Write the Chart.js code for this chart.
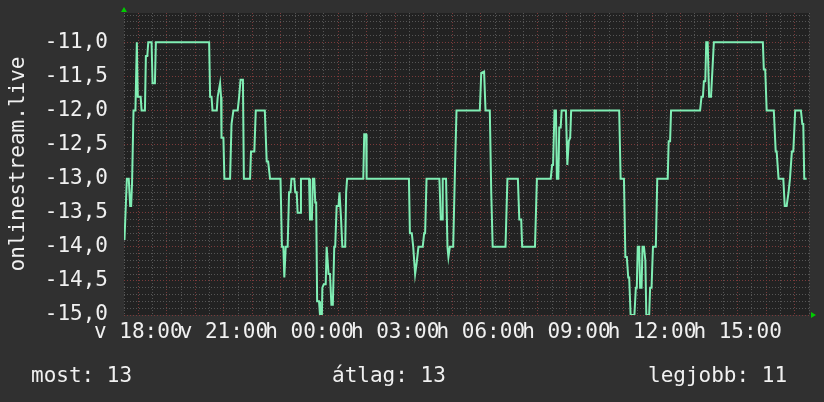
<!DOCTYPE html>
<html><head><meta charset="utf-8">
<script src="https://cdn.jsdelivr.net/npm/chart.js@4/dist/chart.umd.min.js"></script>
<style>
html,body{margin:0;padding:0;background:#303030;}
#wrap{position:relative;width:824px;height:402px;overflow:hidden;}
#c{position:absolute;left:0;top:0;}
.leg{position:absolute;top:365px;font-family:"DejaVu Sans Mono",monospace;font-size:21px;line-height:21px;color:#f0f0f0;white-space:pre;}
</style></head><body>
<div id="wrap"><canvas id="c" width="824" height="402"></canvas>
<div class="leg" id="leg0" style="left:31px"></div>
<div class="leg" id="leg1" style="left:332px"></div>
<div class="leg" id="leg2" style="left:648px"></div>
</div>
<script>
// minutes since the start of the window (17:30 on "v")
const minutes = [1,6,10,13,15,17,20,24,27,29,35,37,44,46,49,51,58,60,65,67,179,181,184,186,195,197,202,204,205,209,211,223,226,230,239,242,245,250,252,265,267,274,277,296,300,303,307,329,332,335,337,340,344,347,350,352,358,360,363,365,370,372,389,391,395,397,400,402,404,406,410,412,416,417,420,424,426,430,433,436,439,442,444,447,451,453,456,459,465,467,469,503,505,509,510,599,601,605,608,612,615,619,628,631,633,636,663,666,669,670,677,680,682,685,692,696,699,748,751,757,760,769,772,775,802,806,828,831,835,837,864,868,897,900,902,905,908,910,913,915,918,920,929,932,935,938,940,1041,1044,1051,1054,1057,1060,1062,1065,1073,1076,1078,1080,1083,1085,1088,1090,1093,1096,1098,1104,1106,1109,1112,1118,1121,1143,1145,1148,1150,1211,1214,1217,1219,1222,1224,1227,1230,1234,1237,1240,1343,1345,1348,1351,1366,1370,1372,1376,1386,1389,1393,1397,1400,1404,1407,1411,1423,1426,1428,1430,1435];
const values = [-13.9,-13.0,-13.0,-13.4,-13.4,-13.05,-12.0,-12.0,-11.0,-11.8,-11.8,-12.0,-12.0,-11.2,-11.2,-11.0,-11.0,-11.6,-11.6,-11.0,-11.0,-11.8,-11.8,-12.0,-12.0,-11.8,-11.6,-11.8,-12.4,-12.4,-13.0,-13.0,-12.2,-12.0,-12.0,-11.8,-11.55,-11.55,-13.0,-13.0,-12.6,-12.6,-12.0,-12.0,-12.75,-12.75,-13.0,-13.0,-14.0,-14.0,-14.45,-14.0,-14.0,-13.2,-13.2,-13.0,-13.0,-13.2,-13.2,-13.5,-13.5,-13.0,-13.0,-13.6,-13.6,-13.0,-13.0,-13.35,-13.35,-14.8,-14.8,-15.0,-15.0,-14.6,-14.55,-14.55,-14.0,-14.4,-14.4,-14.85,-14.85,-14.0,-14.0,-13.4,-13.4,-13.2,-13.55,-14.0,-14.0,-13.2,-13.0,-13.0,-12.35,-12.35,-13.0,-13.0,-13.8,-13.8,-14.0,-14.4,-14.25,-14.0,-14.0,-13.8,-13.8,-13.0,-13.0,-13.6,-13.6,-13.0,-13.0,-14.0,-14.15,-14.0,-14.0,-12.8,-12.0,-12.0,-11.45,-11.43,-12.0,-12.0,-13.2,-14.0,-14.0,-13.0,-13.0,-13.6,-13.6,-14.0,-14.0,-13.0,-13.0,-12.8,-12.8,-12.0,-12.0,-13.0,-13.0,-12.25,-12.25,-12.0,-12.0,-12.8,-12.45,-12.4,-12.0,-12.0,-13.0,-13.0,-14.15,-14.15,-14.45,-14.45,-15.0,-15.0,-14.6,-14.6,-14.0,-14.0,-14.6,-14.6,-14.0,-14.0,-14.2,-15.0,-15.0,-14.6,-14.6,-14.0,-14.0,-13.0,-13.0,-12.45,-12.45,-12.0,-12.0,-11.8,-11.8,-11.57,-11.57,-11.0,-11.0,-11.8,-11.8,-11.4,-11.0,-11.0,-11.4,-11.4,-12.0,-12.0,-12.6,-12.6,-13.0,-13.0,-13.4,-13.4,-13.2,-13.0,-12.6,-12.6,-12.0,-12.0,-12.2,-12.2,-13.0,-13.0];
const xTickMinutes = [30,210,390,570,750,930,1110,1290];
const xTickLabels = ['v 18:00','v 21:00','h 00:00','h 03:00','h 06:00','h 09:00','h 12:00','h 15:00'];
const yTickLabels = ['-11,0','-11,5','-12,0','-12,5','-13,0','-13,5','-14,0','-14,5','-15,0'];
const axisTitle = 'onlinestream.live';
const legendNames = ['most:','átlag:','legjobb:'];
const legendValues = [13,13,11];

legendNames.forEach((n,i)=>{document.getElementById('leg'+i).textContent = n+' '+legendValues[i];});

const RED = '#7a3a3a', GRAY = '#555555';
const FONT = {family:'"DejaVu Sans Mono", monospace', size:21};

const bgPlugin = {
  id:'bg',
  beforeDraw(chart){
    const {ctx, chartArea:a} = chart;
    ctx.save();
    ctx.fillStyle='#303030'; ctx.fillRect(0,0,chart.width,chart.height);
    ctx.fillStyle='#222222'; ctx.fillRect(a.left,a.top,a.right-a.left,a.bottom-a.top);
    ctx.restore();
  },
  afterDraw(chart){
    const {ctx, chartArea:a} = chart;
    ctx.save(); ctx.fillStyle='#00cc00';
    ctx.beginPath(); ctx.moveTo(a.left-3,a.top-1); ctx.lineTo(a.left+3,a.top-1); ctx.lineTo(a.left,a.top-6); ctx.closePath(); ctx.fill();
    ctx.beginPath(); ctx.moveTo(a.right+2,a.bottom-3); ctx.lineTo(a.right+2,a.bottom+3); ctx.lineTo(a.right+7,a.bottom); ctx.closePath(); ctx.fill();
    ctx.restore();
  }
};

const fmtY = v => v.toFixed(1).replace('.',',');

new Chart(document.getElementById('c'), {
  type:'line',
  data:{datasets:[{
    data: minutes.map((m,i)=>({x:m,y:values[i]})),
    borderColor:'#80eeb4', borderWidth:2, pointRadius:0, tension:0, fill:false
  }]},
  options:{
    responsive:false, animation:false, devicePixelRatio:1,
    layout:{padding:{top:13,right:15,left:0,bottom:0}},
    plugins:{legend:{display:false},tooltip:{enabled:false}},
    scales:{
      x:{
        type:'linear', min:0, max:1440,
        afterFit(s){ s.height = 87; s.paddingLeft = 0; s.paddingRight = 0; },
        grid:{color:c=>((c.tick && (c.tick.value-30)%60===0)?RED:GRAY), drawTicks:false, lineWidth:1},
        border:{display:false, dash:[1,2]},
        ticks:{stepSize:30, autoSkip:false, maxRotation:0, minRotation:0, padding:5, color:'#f0f0f0', font:FONT,
          callback:v=>{const i=xTickMinutes.indexOf(v); return i>=0?xTickLabels[i]:'';}}
      },
      y:{
        type:'linear', min:-15, max:-10.57,
        afterFit(s){ s.width = 124; s.paddingTop = 0; s.paddingBottom = 0; },
        grid:{color:c=>{const v=c.tick?c.tick.value:0; return yTickLabels.includes(fmtY(v))?RED:GRAY;}, drawTicks:false, lineWidth:1},
        border:{display:false, dash:[1,2]},
        title:{display:true, text:axisTitle, color:'#f0f0f0', font:FONT, padding:{top:6,bottom:0}},
        ticks:{stepSize:0.1, includeBounds:false, autoSkip:false, padding:16, color:'#f0f0f0', font:FONT,
          callback:v=>{const s=fmtY(v); return yTickLabels.includes(s)?s:'';}}
      }
    }
  },
  plugins:[bgPlugin]
});
</script>
</body></html>
